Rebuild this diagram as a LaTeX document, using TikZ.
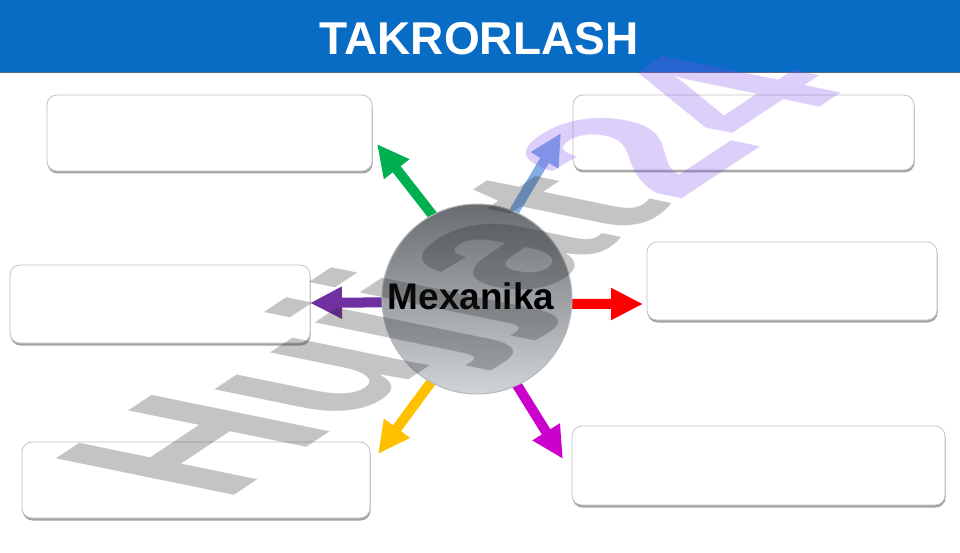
\documentclass[tikz,border=0pt]{standalone}
\usepackage{fontspec}
\setmainfont{Liberation Sans}
\usetikzlibrary{arrows.meta}
\definecolor{titleblue}{RGB}{8,108,196}
\definecolor{titleline}{RGB}{85,105,135}
\definecolor{boxline}{RGB}{195,195,195}
\definecolor{shadowgray}{RGB}{140,140,140}
\definecolor{agreen}{RGB}{0,176,80}
\definecolor{ablue}{RGB}{130,172,228}
\definecolor{ared}{RGB}{255,0,0}
\definecolor{apurple}{RGB}{112,48,160}
\definecolor{ayellow}{RGB}{255,192,0}
\definecolor{amagenta}{RGB}{204,0,204}
\definecolor{ctop}{RGB}{105,109,112}
\definecolor{cbot}{RGB}{208,212,216}
\definecolor{cline}{RGB}{180,185,190}
\definecolor{wmgray}{RGB}{40,40,40}
\definecolor{wmlav}{RGB}{128,80,240}
\pgfdeclarelayer{bg}
\pgfdeclarelayer{mid}
\pgfdeclarelayer{fg}
\pgfsetlayers{bg,mid,main,fg}
\begin{document}
\begin{tikzpicture}[x=1pt,y=-1pt,
  answerbox/.style={draw=boxline, line width=0.8pt, fill=white, rounded corners=10pt,
    inner sep=0pt, rectangle,
    preaction={fill=shadowgray, opacity=0.8, transform canvas={shift={(0.6pt,-2.5pt)}}}},
  ray/.style={line width=10pt, -{Triangle[length=32pt,width=30pt]}, shorten <=-8pt},
]
\useasboundingbox (0,0) rectangle (960,553);
\begin{pgfonlayer}{bg}
\fill[white] (0,0) rectangle (960,553);
\node[fill=titleblue, minimum width=960pt, minimum height=72pt, anchor=north west,
  inner sep=0pt] (bar) at (0,0) {};
\draw[titleline, line width=1.5pt] (bar.south west) -- (bar.south east);
\node[text=white, font=\fontsize{46}{46}\selectfont\bfseries, inner sep=0pt] (title)
  at (479,38.5) {TAKRORLASH};
\node[answerbox, minimum width=325pt, minimum height=76pt] (b1) at (209.5,133) {};
\node[answerbox, minimum width=341pt, minimum height=75pt] (b2) at (743.5,132.5) {};
\node[answerbox, minimum width=290pt, minimum height=78pt] (b3) at (792,281) {};
\node[answerbox, minimum width=300pt, minimum height=78pt] (b4) at (160,304) {};
\node[answerbox, minimum width=348pt, minimum height=76pt] (b5) at (196,480) {};
\node[answerbox, minimum width=373pt, minimum height=79pt] (b6) at (758.5,465.5) {};
\end{pgfonlayer}

\node[circle, minimum size=190pt, inner sep=0pt, top color=ctop, bottom color=cbot,
  draw=cline, line width=1pt] (c) at (477,299) {};
\node[font=\fontsize{37}{37}\selectfont\bfseries, text=black, inner sep=0pt] (lbl)
  at (471,296) {Mexanika};

\coordinate (tG) at (377,144);
\coordinate (tB) at (561,133);
\coordinate (tR) at (643,304);
\coordinate (tP) at (310,303);
\coordinate (tY) at (378,454);
\coordinate (tM) at (563,459);

\begin{pgfonlayer}{mid}
\draw[ray, agreen] (c.118) -- (tG);
\draw[ray, ablue] (c.67) -- (tB);
\draw[ray, ared] (c.-3) -- (tR);
\draw[ray, apurple] (c.182.4) -- (tP);
\draw[ray, ayellow] (c.241) -- (tY);
\draw[ray, amagenta] (c.295) -- (tM);
\end{pgfonlayer}

\begin{pgfonlayer}{fg}
\begin{scope}[shift={(223,503)}]
\node[cm={1.63,1.08,-2.59,0.53,(0,0)}, transform shape, anchor=base west,
  inner sep=0pt, text opacity=0.27, font=\fontsize{100}{100}\selectfont\bfseries] (wm)
  at (0,0) {\textcolor{wmgray}{Hujjat}\textcolor{wmlav}{24}};
\end{scope}
\end{pgfonlayer}
\end{tikzpicture}
\end{document}
